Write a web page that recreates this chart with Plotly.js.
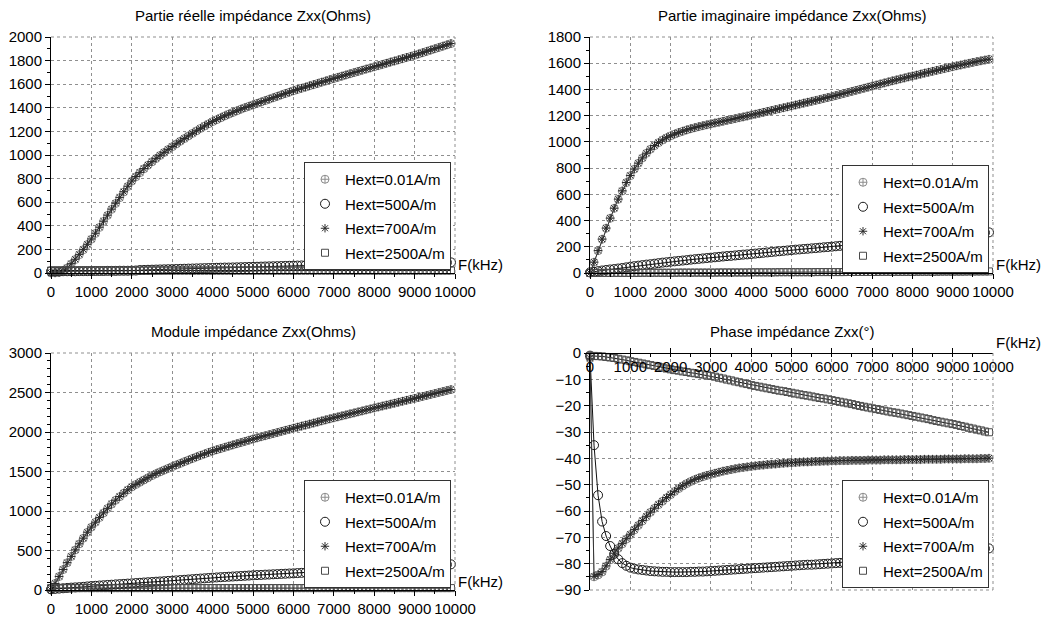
<!DOCTYPE html>
<html>
<head>
<meta charset="utf-8">
<script src="https://cdn.plot.ly/plotly-3.0.1.min.js"></script>
<style>html,body{margin:0;padding:0;background:#fff;}#chart{width:1045px;height:617px;}</style>
</head>
<body>
<div id="chart"></div>
<script>
// Frequency (kHz)
const freq = [0,100,200,300,400,500,600,700,800,900,
1000,1100,1200,1300,1400,1500,1600,1700,1800,1900,
2000,2100,2200,2300,2400,2500,2600,2700,2800,2900,
3000,3100,3200,3300,3400,3500,3600,3700,3800,3900,
4000,4100,4200,4300,4400,4500,4600,4700,4800,4900,
5000,5100,5200,5300,5400,5500,5600,5700,5800,5900,
6000,6100,6200,6300,6400,6500,6600,6700,6800,6900,
7000,7100,7200,7300,7400,7500,7600,7700,7800,7900,
8000,8100,8200,8300,8400,8500,8600,8700,8800,8900,
9000,9100,9200,9300,9400,9500,9600,9700,9800,9900];

// Partie réelle (Ohms)
const re001 = [0,1,5,17,42,76,114,155,197,241,
286,335,386,437,488,539,589,638,686,733,
778,815,850,883,913,942,970,996,1021,1046,
1070,1093,1116,1139,1161,1183,1204,1225,1245,1264,
1283,1299,1315,1331,1346,1360,1374,1388,1401,1413,
1425,1437,1449,1461,1473,1485,1497,1509,1521,1532,
1544,1555,1565,1575,1586,1596,1606,1617,1627,1638,
1648,1658,1668,1678,1688,1698,1708,1718,1728,1737,
1747,1757,1767,1777,1787,1796,1806,1816,1826,1835,
1845,1856,1867,1878,1889,1900,1911,1922,1933,1944];
const re500 = [14,14,14,15,15,15,15,16,16,16,
16,17,17,17,18,18,18,19,19,19,
20,21,25,26,27,28,29,30,31,32,
33,34,35,36,37,38,39,40,41,42,
43,44,45,46,46,47,48,49,50,51,
52,53,54,55,56,57,58,59,60,61,
62,63,64,65,66,67,68,68,69,70,
71,72,72,73,74,75,75,76,77,78,
78,79,80,80,81,82,82,83,84,84,
85,86,86,87,87,88,88,89,89,90];
const re700 = [0,2,6,19,44,79,117,158,200,244,
289,338,389,440,491,542,592,641,689,736,
780,818,853,885,915,944,972,998,1023,1048,
1072,1095,1118,1140,1162,1184,1205,1226,1246,1265,
1284,1300,1316,1332,1347,1361,1375,1389,1402,1414,
1426,1438,1450,1462,1474,1486,1498,1510,1522,1533,
1545,1556,1566,1576,1587,1597,1607,1618,1628,1639,
1649,1659,1669,1679,1689,1699,1709,1719,1729,1738,
1748,1758,1768,1778,1788,1797,1807,1817,1827,1836,
1846,1857,1868,1879,1890,1901,1912,1923,1934,1945];
const re2500 = [21,21,21,21,21,21,21,21,21,21,
21,21,21,21,21,21,21,21,21,21,
21,21,21,21,21,21,21,21,21,21,
21,21,21,21,21,21,21,21,21,21,
21,21,21,21,21,21,21,21,21,21,
21,21,21,21,21,21,21,21,21,21,
21,21,21,21,21,21,21,21,21,21,
21,21,21,21,21,21,21,21,21,21,
21,21,21,21,21,21,21,21,21,21,
21,21,21,21,21,21,21,21,21,21];

// Partie imaginaire (Ohms)
const im001 = [0,82,170,257,341,417,493,562,625,689,
742,792,837,877,913,944,971,994,1014,1031,
1046,1059,1071,1081,1091,1100,1108,1116,1123,1130,
1137,1144,1150,1157,1164,1170,1177,1184,1190,1197,
1204,1211,1218,1225,1232,1239,1246,1253,1260,1267,
1274,1281,1288,1295,1302,1309,1316,1323,1331,1338,
1345,1353,1361,1369,1377,1385,1393,1401,1409,1417,
1425,1433,1441,1449,1457,1465,1472,1480,1487,1495,
1502,1509,1516,1524,1531,1538,1545,1552,1559,1566,
1573,1580,1586,1593,1599,1606,1612,1618,1624,1630];
const im500 = [5,8,14,19,23,27,30,34,38,43,
48,52,56,60,64,67,71,75,79,82,
86,89,92,95,98,102,105,108,111,114,
117,120,123,126,129,131,134,137,140,142,
145,148,151,154,157,160,163,166,169,172,
175,178,180,183,185,188,190,193,196,198,
201,204,207,210,213,216,219,222,225,228,
230,233,236,239,242,245,248,251,254,257,
260,263,266,269,272,275,278,281,284,287,
290,292,294,297,299,301,304,306,308,310];
const im700 = [0,83,171,259,343,419,495,564,627,690,
744,793,838,878,914,945,972,995,1015,1032,
1047,1060,1072,1082,1092,1101,1109,1117,1124,1131,
1138,1145,1151,1158,1165,1171,1178,1185,1191,1198,
1205,1212,1219,1226,1233,1240,1247,1254,1261,1268,
1275,1282,1289,1296,1303,1310,1317,1324,1332,1339,
1346,1354,1362,1370,1378,1386,1394,1402,1410,1418,
1426,1434,1442,1450,1458,1466,1473,1481,1488,1496,
1503,1510,1517,1525,1532,1539,1546,1553,1560,1567,
1574,1581,1587,1594,1600,1607,1613,1619,1625,1631];
const im2500 = [0,0,1,1,1,1,1,1,1,1,
1,1,1,2,2,2,2,2,2,2,
2,2,3,3,3,3,3,3,3,3,
3,3,4,4,4,4,4,4,4,4,
5,5,5,5,5,5,5,6,6,6,
6,6,6,6,6,6,7,7,7,7,
7,7,7,7,8,8,8,8,8,8,
8,8,9,9,9,9,9,9,9,9,
9,10,10,10,10,10,10,11,11,11,
11,11,11,11,12,12,12,12,12,12];

// Module (Ohms)
const mod001 = [0,82,170,258,344,424,506,583,655,730,
795,857,917,975,1032,1087,1136,1181,1225,1266,
1304,1335,1364,1392,1420,1448,1472,1495,1517,1539,
1561,1582,1602,1624,1644,1664,1684,1704,1722,1741,
1759,1775,1790,1806,1821,1836,1851,1866,1881,1896,
1911,1925,1939,1952,1966,1980,1993,2007,2021,2034,
2048,2061,2074,2087,2100,2113,2126,2140,2153,2166,
2179,2191,2204,2216,2229,2241,2254,2266,2279,2291,
2304,2316,2328,2340,2352,2364,2377,2389,2401,2413,
2425,2437,2450,2462,2475,2487,2500,2512,2525,2537];
const mod500 = [10,14,18,22,26,30,33,36,40,45,
50,53,57,60,64,67,71,74,77,81,
84,88,91,95,98,101,105,108,111,115,
118,122,126,129,133,137,141,145,148,152,
156,159,162,165,168,171,174,177,180,183,
186,189,191,194,196,199,201,204,206,209,
211,214,217,220,223,226,229,232,235,238,
241,244,247,250,253,256,259,262,265,268,
271,274,277,280,283,286,289,292,295,298,
301,304,306,309,312,314,317,319,322,325];
const mod700 = [0,83,172,260,346,426,508,585,657,732,
797,859,919,977,1034,1089,1138,1183,1227,1268,
1306,1337,1366,1394,1422,1450,1474,1497,1519,1541,
1563,1584,1604,1625,1645,1665,1685,1705,1723,1742,
1760,1776,1791,1807,1822,1837,1852,1867,1882,1897,
1912,1926,1940,1953,1967,1981,1994,2008,2022,2035,
2049,2062,2075,2088,2101,2114,2127,2141,2154,2167,
2180,2192,2205,2217,2230,2242,2255,2267,2280,2292,
2305,2317,2329,2341,2353,2365,2378,2390,2402,2414,
2426,2438,2451,2463,2476,2488,2501,2513,2526,2538];
const mod2500 = [24,24,24,24,24,24,24,24,24,24,
24,24,24,24,24,24,24,24,24,24,
24,24,24,24,24,24,24,24,24,24,
24,24,24,24,24,24,24,24,24,24,
24,24,24,24,24,24,24,24,24,24,
24,24,24,24,24,24,24,24,24,24,
24,24,24,24,24,24,24,24,24,24,
24,24,24,24,24,24,24,24,24,24,
24,24,24,24,24,24,24,24,24,24,
24,24,24,24,24,24,24,24,24,24];

// Phase (°)
const ph001 = [-2,-85,-84.3,-83.2,-81.0,-78.6,-76.2,-74.2,-72.5,-70.7,
-69.0,-67.2,-65.5,-63.8,-62.2,-60.5,-59.0,-57.6,-56.3,-55.0,
-53.8,-52.6,-51.5,-50.5,-49.6,-48.8,-48.1,-47.5,-47.0,-46.5,
-46.1,-45.7,-45.3,-44.9,-44.6,-44.3,-44.0,-43.7,-43.5,-43.3,
-43.1,-42.9,-42.7,-42.6,-42.4,-42.3,-42.2,-42.0,-41.9,-41.8,
-41.7,-41.6,-41.5,-41.4,-41.4,-41.3,-41.2,-41.2,-41.1,-41.1,
-41.0,-41.0,-40.9,-40.9,-40.9,-40.8,-40.8,-40.8,-40.8,-40.7,
-40.7,-40.7,-40.7,-40.6,-40.6,-40.6,-40.6,-40.6,-40.5,-40.5,
-40.5,-40.5,-40.5,-40.4,-40.4,-40.4,-40.4,-40.4,-40.3,-40.3,
-40.3,-40.3,-40.3,-40.2,-40.2,-40.2,-40.2,-40.1,-40.1,-40.0];
const ph500 = [-1,-35,-54,-64,-69.5,-73.3,-76.3,-78.3,-79.8,-80.8,
-81.5,-81.9,-82.2,-82.4,-82.6,-82.8,-82.9,-83.0,-83.1,-83.1,
-83.2,-83.2,-83.2,-83.2,-83.2,-83.1,-83.1,-83.0,-83.0,-82.9,
-82.8,-82.7,-82.6,-82.5,-82.4,-82.3,-82.2,-82.1,-82.0,-81.9,
-81.8,-81.7,-81.6,-81.5,-81.4,-81.3,-81.2,-81.1,-81.0,-80.9,
-80.8,-80.7,-80.6,-80.5,-80.4,-80.4,-80.3,-80.2,-80.1,-80.0,
-79.9,-79.8,-79.7,-79.6,-79.4,-79.3,-79.1,-79.0,-78.9,-78.7,
-78.6,-78.4,-78.3,-78.1,-78.0,-77.8,-77.7,-77.5,-77.4,-77.2,
-77.1,-76.9,-76.8,-76.6,-76.4,-76.3,-76.1,-75.9,-75.8,-75.6,
-75.4,-75.3,-75.1,-75.0,-74.8,-74.7,-74.6,-74.5,-74.3,-74.2];
const ph700 = [-2,-84.8,-84.1,-83.0,-80.8,-78.4,-76.0,-74.0,-72.3,-70.5,
-68.8,-67.0,-65.3,-63.6,-62.0,-60.4,-58.9,-57.5,-56.2,-54.9,
-53.7,-52.5,-51.4,-50.4,-49.5,-48.7,-48.0,-47.4,-46.9,-46.4,
-46.0,-45.6,-45.2,-44.8,-44.5,-44.2,-43.9,-43.6,-43.4,-43.2,
-43.0,-42.8,-42.6,-42.5,-42.3,-42.2,-42.1,-41.9,-41.8,-41.7,
-41.6,-41.5,-41.4,-41.3,-41.3,-41.2,-41.1,-41.1,-41.0,-41.0,
-40.9,-40.9,-40.8,-40.8,-40.8,-40.7,-40.7,-40.7,-40.7,-40.6,
-40.6,-40.6,-40.6,-40.5,-40.5,-40.5,-40.5,-40.5,-40.4,-40.4,
-40.4,-40.4,-40.4,-40.3,-40.3,-40.3,-40.3,-40.3,-40.2,-40.2,
-40.2,-40.2,-40.2,-40.1,-40.1,-40.1,-40.1,-40.0,-40.0,-39.9];
const ph2500 = [-1.1,-1.1,-1.2,-1.3,-1.5,-1.7,-1.9,-2.2,-2.5,-2.8,
-3.1,-3.4,-3.7,-4.0,-4.3,-4.6,-4.9,-5.2,-5.5,-5.9,
-6.2,-6.5,-6.7,-7.0,-7.2,-7.5,-7.7,-8.0,-8.2,-8.5,
-8.7,-9.0,-9.4,-9.7,-10.1,-10.4,-10.8,-11.1,-11.5,-11.8,
-12.2,-12.5,-12.8,-13.1,-13.4,-13.7,-14.0,-14.3,-14.5,-14.8,
-15.1,-15.4,-15.7,-16.0,-16.2,-16.5,-16.8,-17.1,-17.3,-17.6,
-17.9,-18.2,-18.5,-18.8,-19.1,-19.4,-19.8,-20.1,-20.4,-20.7,
-21.0,-21.3,-21.6,-21.9,-22.2,-22.5,-22.7,-23.0,-23.3,-23.6,
-23.9,-24.2,-24.5,-24.8,-25.1,-25.5,-25.8,-26.1,-26.4,-26.7,
-27.0,-27.3,-27.7,-28.0,-28.4,-28.7,-29.1,-29.4,-29.8,-30.1];

const seriesNames = ['Hext=0.01A/m','Hext=500A/m','Hext=700A/m','Hext=2500A/m'];
const panelTitles = ['Partie réelle impédance Zxx(Ohms)','Partie imaginaire impédance Zxx(Ohms)','Module impédance Zxx(Ohms)','Phase impédance Zxx(°)'];
const xLabel = 'F(kHz)';

const panels = [
  {series:[re001,re500,re700,re2500], yrange:[0,2000], ydtick:200, yminor:100},
  {series:[im001,im500,im700,im2500], yrange:[0,1800], ydtick:200, yminor:100},
  {series:[mod001,mod500,mod700,mod2500], yrange:[0,3000], ydtick:500, yminor:100},
  {series:[ph001,ph500,ph700,ph2500], yrange:[-90,0], ydtick:10, yminor:5}
];

const W = 1045, H = 617;
const px = v => v / W;
const py = v => (H - v) / H;
// pixel boxes of the 4 plot areas [left, right, top, bottom]
const boxes = [[51,455,37,273],[590,993,37,273],[51,455,353,590],[590,993,353,590]];

const styles = [
  {symbol:'circle-cross-open', mcolor:'#8c8c8c', lcolor:'#9a9a9a', size:8},
  {symbol:'circle-open', mcolor:'#1a1a1a', lcolor:'#111111', size:9},
  {symbol:'asterisk-open', mcolor:'#2a2a2a', lcolor:'#333333', size:7},
  {symbol:'square-open', mcolor:'#4a4a4a', lcolor:'#111111', size:7}
];

const font = 'Arial, "Liberation Sans", Helvetica, sans-serif';
const FS = 15;
const traces = [];
const layout = {
  width: W, height: H,
  margin: {l:0, r:0, t:0, b:0},
  paper_bgcolor: '#ffffff', plot_bgcolor: '#ffffff',
  font: {family: font, size: FS, color: '#000'},
  showlegend: true,
  annotations: [],
  shapes: []
};

panels.forEach((p, k) => {
  const n = k + 1;
  const xa = n === 1 ? 'x' : 'x' + n;
  const ya = n === 1 ? 'y' : 'y' + n;
  const xk = n === 1 ? 'xaxis' : 'xaxis' + n;
  const yk = n === 1 ? 'yaxis' : 'yaxis' + n;
  const lg = n === 1 ? 'legend' : 'legend' + n;
  const b = boxes[k];
  const ydom = [py(b[3]), py(b[2])];
  const isPhase = k === 3;

  layout[xk] = {
    domain: [px(b[0]), px(b[1])],
    range: [0, 10000], dtick: 1000, tick0: 0,
    exponentformat: 'none', separatethousands: false, tickformat: 'd',
    tickangle: 0,
    showgrid: true, gridcolor: '#8f8f8f', griddash: 'dot', gridwidth: 1,
    zeroline: false, showline: true, linecolor: '#000', linewidth: 1,
    ticks: isPhase ? 'inside' : 'outside', ticklen: 5, tickcolor: '#000',
    minor: {dtick: 500, ticklen: 3, tickcolor: '#000', showgrid: false},
    tickfont: {size: FS, family: font},
    fixedrange: true
  };
  if (isPhase) {
    layout[xk].anchor = 'free';
    layout[xk].position = ydom[1];
    layout[xk].side = 'bottom';
    layout[xk].ticklabelstandoff = 0;
  } else {
    layout[xk].anchor = ya;
  }
  layout[yk] = {
    domain: ydom, anchor: xa,
    range: p.yrange, dtick: p.ydtick,
    exponentformat: 'none', tickformat: 'd',
    showgrid: true, gridcolor: '#8f8f8f', griddash: 'dot', gridwidth: 1,
    zeroline: false, showline: true, linecolor: '#000', linewidth: 1,
    ticks: 'outside', ticklen: 5, tickcolor: '#000',
    minor: {dtick: p.yminor, ticklen: 3, tickcolor: '#000', showgrid: false},
    tickfont: {size: FS, family: font},
    fixedrange: true
  };

  // dotted border on the two free sides
  layout.shapes.push({type:'line', xref:'paper', yref:'paper', x0:px(b[0]), x1:px(b[1]),
    y0: isPhase ? py(b[3]) : py(b[2]), y1: isPhase ? py(b[3]) : py(b[2]),
    line:{color:'#8f8f8f', width:1, dash:'dot'}});
  layout.shapes.push({type:'line', xref:'paper', yref:'paper', x0:px(b[1]), x1:px(b[1]),
    y0:py(b[3]), y1:py(b[2]), line:{color:'#8f8f8f', width:1, dash:'dot'}});

  p.series.forEach((vals, s) => {
    const st = styles[s];
    traces.push({
      type:'scatter', mode:'lines', x:freq, y:vals, xaxis:xa, yaxis:ya,
      line:{color:st.lcolor, width:1}, showlegend:false, hoverinfo:'skip',
      legendgroup: 'g'+n+'_'+s, legend: lg
    });
    traces.push({
      type:'scatter', mode:'markers', x:freq, y:vals, xaxis:xa, yaxis:ya,
      name: seriesNames[s], legend: lg, legendgroup: 'g'+n+'_'+s,
      marker:{symbol:st.symbol, size:st.size, color:st.mcolor, line:{color:st.mcolor, width:1}},
      cliponaxis: false
    });
  });

  layout[lg] = {
    x: px(b[1] - 4), y: py(b[3] - (isPhase || k===2 ? 2 : (k===1 ? 0 : 3))),
    xanchor:'right', yanchor:'bottom',
    bgcolor:'#ffffff', bordercolor:'#333333', borderwidth:1,
    font:{size:15, family:font, color:'#000'},
    tracegroupgap: 2, itemwidth: 30, traceorder:'grouped'
  };

  // panel title
  layout.annotations.push({
    text: panelTitles[k], xref:'paper', yref:'paper',
    x: px((b[0]+b[1])/2), y: py(b[2] - 22), xanchor:'center', yanchor:'middle',
    showarrow:false, font:{size:FS, family:font, color:'#000'}
  });
  // x-axis label
  layout.annotations.push({
    text: xLabel, xref:'paper', yref:'paper',
    x: px(b[1] + 1), y: isPhase ? py(b[2] - 11) : py(b[3] - 9), xanchor:'left', yanchor:'middle',
    showarrow:false, font:{size:15, family:font, color:'#000'}
  });
});

Plotly.newPlot('chart', traces, layout, {staticPlot:true, displayModeBar:false});
</script>
</body>
</html>
